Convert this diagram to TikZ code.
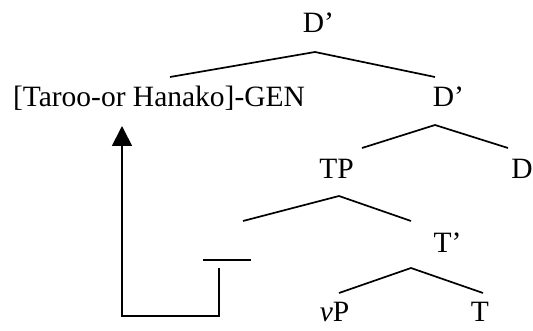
\documentclass[tikz,border=0pt]{standalone}
\usepackage{fontspec}
\setmainfont{Liberation Serif}
\usetikzlibrary{arrows.meta}
\tikzset{
  lbl/.style = {anchor=base, inner sep=0pt, font=\fontsize{29.5}{34}\selectfont},
  gapline/.style = {minimum width=48pt, minimum height=0pt, inner sep=0pt},
  branch/.style = {line width=1.7pt},
  move/.style = {line width=1.7pt, -{Triangle[length=20pt,width=20pt]}}
}
\begin{document}
\begin{tikzpicture}[x=1pt, y=-1pt]
\useasboundingbox (0,0) rectangle (533,331);
% labels
\node[lbl] (dtop) at (318.5,33) {D’};
\node[lbl] (gen) at (159,107) {[Taroo-or Hanako]-GEN};
\node[lbl] (dbar) at (448.5,107) {D’};
\node[lbl] (tp) at (336.5,179) {TP};
\node[lbl] (d) at (522,179) {D};
\node[lbl] (tbar) at (447.5,253) {T’};
\node[lbl] (vp) at (334.5,321) {\textit{v}P};
\node[lbl] (t) at (480,321) {T};
\node[gapline] (gap) at (227,260) {};
% attachment points
\coordinate (dtop-bot) at (315,52);
\coordinate (gen-top) at (170,77);
\coordinate (gen-bot) at (122,126);
\coordinate (dbar-top) at (435,77);
\coordinate (dbar-bot) at (435,125);
\coordinate (tp-top) at (362,148);
\coordinate (d-top) at (508,148);
\coordinate (tp-bot) at (339,196);
\coordinate (gap-top) at (243,221);
\coordinate (gap-bot) at (219,268);
\coordinate (tbar-top) at (411,221);
\coordinate (tbar-bot) at (411,268);
\coordinate (vp-top) at (339,293);
\coordinate (t-top) at (483,293);
% branches
\draw[branch] (gen-top) -- (dtop-bot) -- (dbar-top);
\draw[branch] (tp-top) -- (dbar-bot) -- (d-top);
\draw[branch] (gap-top) -- (tp-bot) -- (tbar-top);
\draw[branch] (vp-top) -- (tbar-bot) -- (t-top);
\draw[branch] (gap.west) -- (gap.east);
% movement
\draw[move] (gap-bot) -- ++(0,48) -| (gen-bot);
\end{tikzpicture}
\end{document}
